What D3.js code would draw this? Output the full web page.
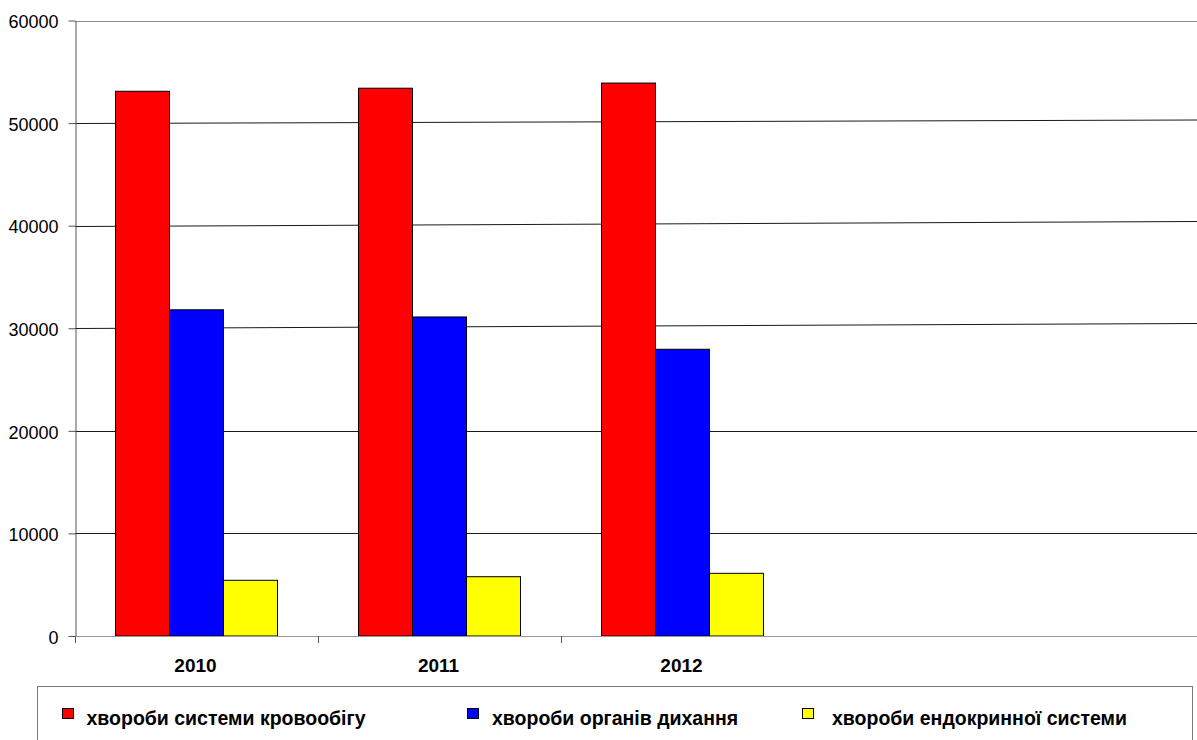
<!DOCTYPE html>
<html>
<head>
<meta charset="utf-8">
<script src="https://cdn.jsdelivr.net/npm/d3@7"></script>
<style>
  body { margin: 0; background: #fff; }
  text { font-family: "Liberation Sans", Arial, sans-serif; fill: #000; }
</style>
</head>
<body>
<svg id="chart" width="1197" height="740"></svg>
<script>
// data
const years = ["2010", "2011", "2012"];
const seriesNames = ["хвороби системи кровообігу", "хвороби органів дихання", "хвороби ендокринної системи"];
const circulatory = [53100, 53400, 53900];
const respiratory = [31800, 31100, 27950];
const endocrine = [5430, 5780, 6110];
const yTicks = [0, 10000, 20000, 30000, 40000, 50000, 60000];

const seriesValues = [circulatory, respiratory, endocrine];
const seriesColors = ["#ff0000", "#0000ff", "#ffff00"];

// layout
let margin = {top: 20.5, left: 75, bottom: 636, right: 1197};
let step = 243;

// the original gridlines lean up slightly toward the right
const gridTilt = {30000: 5, 40000: 5, 50000: 3.5};

let svg = d3.select("#chart");

let x = d3.scaleBand()
    .domain(years)
    .range([margin.left, margin.left + step * years.length]);

let xs = d3.scaleBand()
    .domain(d3.range(seriesValues.length))
    .range([0, x.bandwidth() * 2 / 3]);

let groupOffset = x.bandwidth() / 6;

let y = d3.scaleLinear()
    .domain([0, 60000])
    .range([margin.bottom, margin.top]);

// gridlines
svg.append("g").selectAll("line")
    .data(yTicks.filter(d => d > 0))
    .enter()
    .append("line")
    .attr("x1", margin.left)
    .attr("x2", margin.right)
    .attr("y1", d => Math.round(y(d)) + 0.5)
    .attr("y2", d => Math.round(y(d)) + 0.5 - (gridTilt[d] || 0))
    .attr("stroke", d => d == 60000 ? "#8c8c8c" : "#1a1a1a")
    .attr("stroke-width", 1);

// bars
let rows = [];
years.forEach(function(yr, i) {
    seriesValues.forEach(function(vals, j) {
        rows.push({year: yr, s: j, value: vals[i]});
    });
});

svg.append("g").selectAll("rect")
    .data(rows)
    .enter()
    .append("rect")
    .attr("x", d => x(d.year) + groupOffset + xs(d.s))
    .attr("y", d => y(d.value))
    .attr("width", xs.bandwidth())
    .attr("height", d => y(0) - y(d.value))
    .attr("fill", d => seriesColors[d.s])
    .attr("stroke", "#000")
    .attr("stroke-width", 1);

// y axis
let yAxis = svg.append("g")
    .attr("transform", "translate(" + (margin.left + 0.5) + ",0)")
    .call(d3.axisLeft(y)
        .tickValues(yTicks)
        .tickSize(7)
        .tickSizeOuter(0)
        .tickPadding(10)
        .tickFormat(d3.format("d")));

yAxis.selectAll(".domain").attr("stroke", "#555");
yAxis.selectAll(".tick line").attr("stroke", "#555");
yAxis.selectAll(".tick text")
    .style("font-size", "18px")
    .style("font-family", "'Liberation Sans', Arial, sans-serif")
    .attr("dy", "0.4em");

// x axis
let xAxis = svg.append("g");

xAxis.append("line")
    .attr("x1", margin.left)
    .attr("x2", margin.right)
    .attr("y1", y(0) + 0.5)
    .attr("y2", y(0) + 0.5)
    .attr("stroke", "#999");

xAxis.selectAll("line.tick")
    .data(years)
    .enter()
    .append("line")
    .attr("class", "tick")
    .attr("x1", d => Math.round(x(d)) + 0.5)
    .attr("x2", d => Math.round(x(d)) + 0.5)
    .attr("y1", y(0))
    .attr("y2", y(0) + 7)
    .attr("stroke", "#555");

xAxis.selectAll("text")
    .data(years)
    .enter()
    .append("text")
    .attr("x", d => x(d) + x.bandwidth() / 2 - 1)
    .attr("y", 672)
    .attr("text-anchor", "middle")
    .style("font-size", "19px")
    .style("font-weight", "bold")
    .text(d => d);

// legend
let markerX = [62, 467, 802];
let labelX = [86.5, 492, 832];

let legend = svg.append("g");

legend.append("rect")
    .attr("x", 37.5)
    .attr("y", 686.5)
    .attr("width", 1155)
    .attr("height", 90)
    .attr("fill", "none")
    .attr("stroke", "#7a7a7a");

let item = legend.selectAll("g.item")
    .data(seriesNames)
    .enter()
    .append("g")
    .attr("class", "item");

item.append("rect")
    .attr("x", (d, i) => markerX[i] + 0.5)
    .attr("y", 708.5)
    .attr("width", 11)
    .attr("height", 10)
    .attr("fill", (d, i) => seriesColors[i])
    .attr("stroke", "#000");

item.append("text")
    .attr("x", (d, i) => labelX[i])
    .attr("y", 725)
    .style("font-size", "19.5px")
    .style("font-weight", "bold")
    .text(d => d);
</script>
</body>
</html>
